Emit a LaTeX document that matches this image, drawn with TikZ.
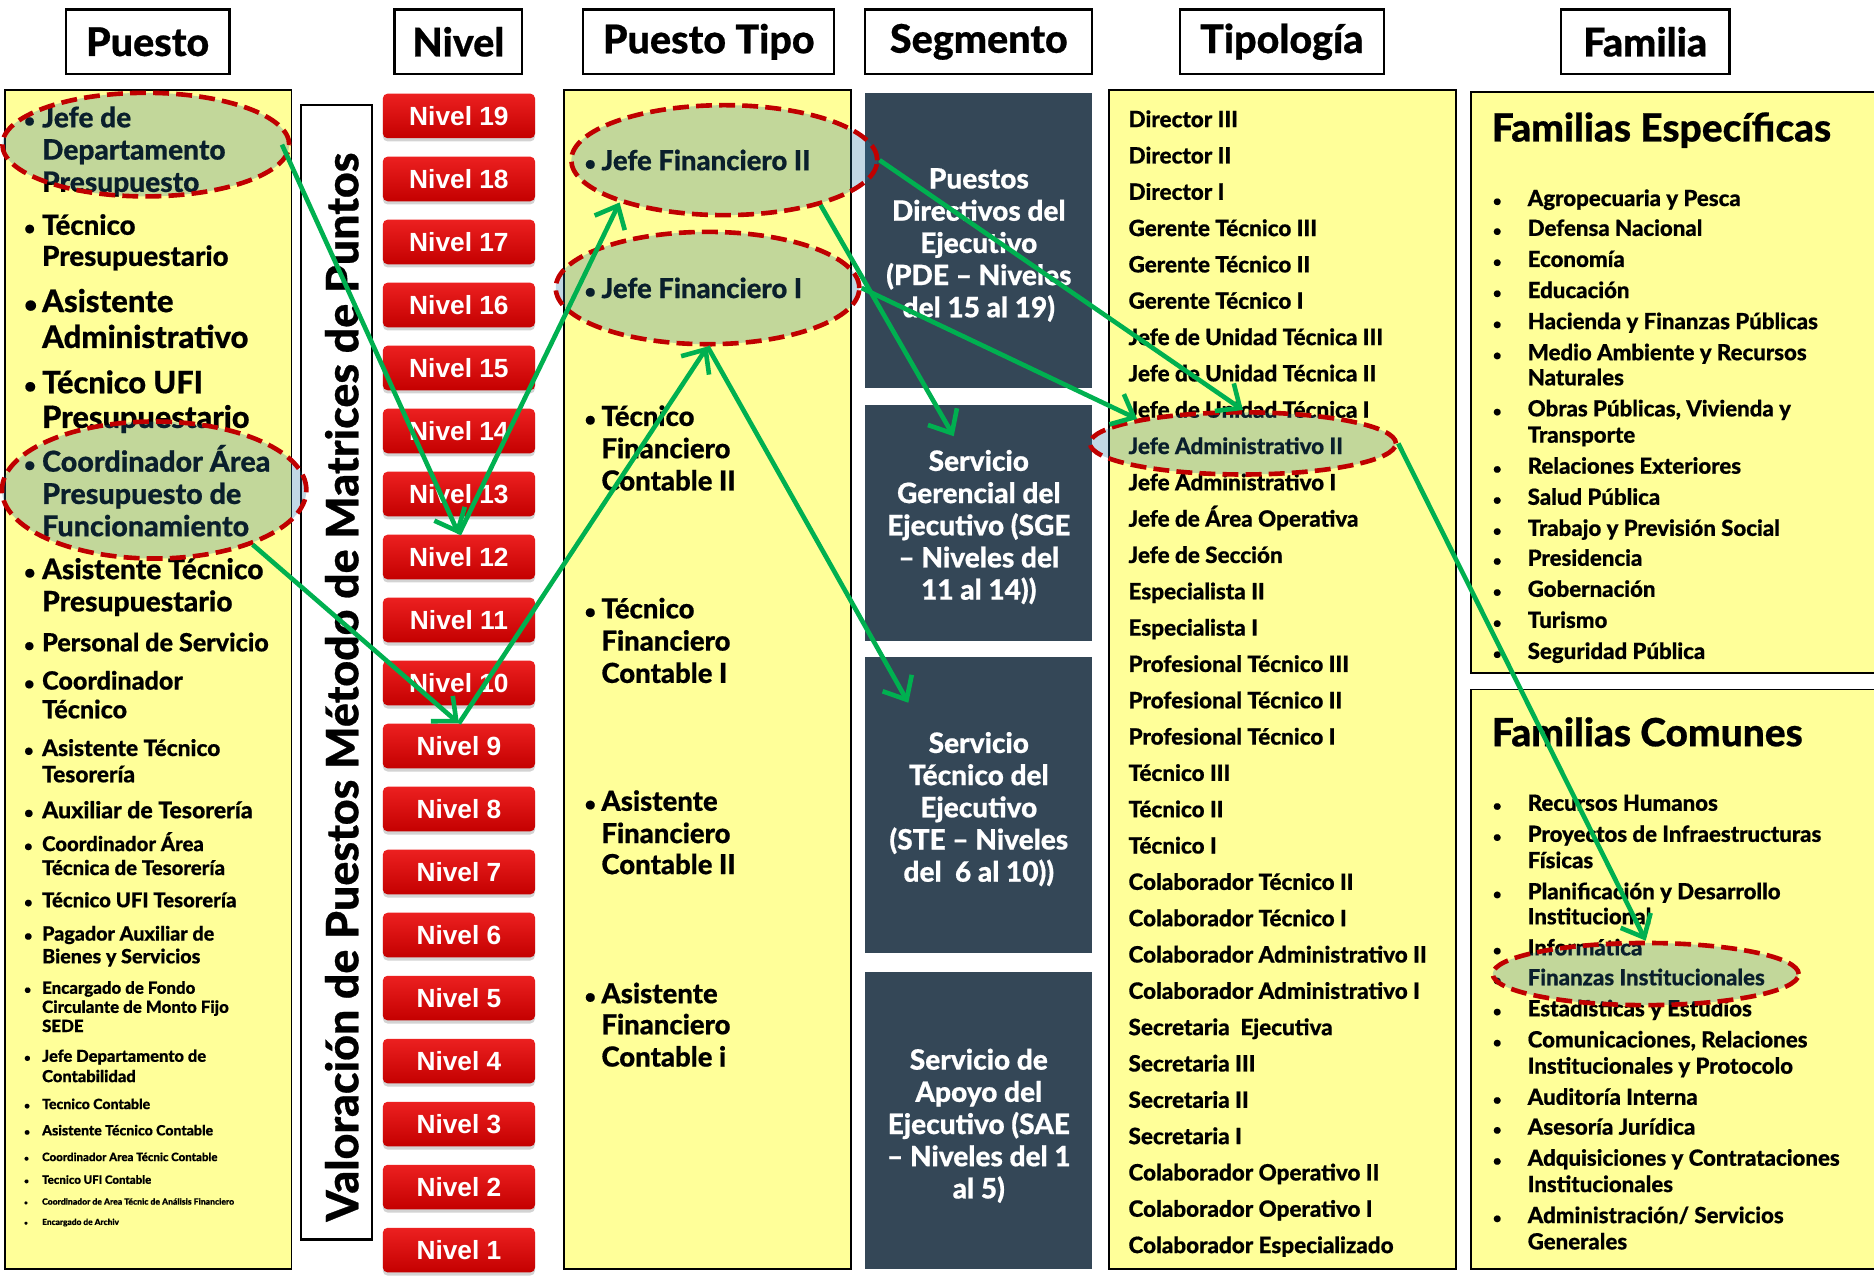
\documentclass[tikz,border=0pt]{standalone}
\usepackage{fontspec}
\setmainfont{Lato}[BoldFont={Lato Heavy}, BoldFeatures={FakeBold=0.6}]
\newfontfamily\btnfont{Liberation Sans}
\usetikzlibrary{arrows.meta}
\usetikzlibrary{shapes.geometric}
\usetikzlibrary{shadows}

\definecolor{panelyellow}{RGB}{255,255,153}
\definecolor{segblue}{RGB}{52,71,87}
\definecolor{arrowgreen}{RGB}{0,176,80}
\definecolor{dashred}{RGB}{192,0,0}
\definecolor{hlblue}{RGB}{37,114,160}
\definecolor{btntop}{RGB}{236,32,32}
\definecolor{btnbot}{RGB}{196,0,0}

% font size given in picture units (1 unit = 0.75pt)
\newcommand{\fs}[1]{\pgfmathsetmacro\fsa{#1*0.75}\pgfmathsetmacro\fsb{#1*0.92}\fontsize{\fsa}{\fsb}\selectfont}

\tikzset{
  panel/.style={draw=black, line width=1.1pt, fill=panelyellow},
  headbox/.style={draw=black, line width=1.4pt, fill=white, inner sep=0pt, minimum height=40.5pt, font=\bfseries\fs{33}},
  segbox/.style={fill=segblue},
  segtext/.style={text=white, align=center, inner sep=0pt, font=\bfseries\fontsize{17.6}{20.2}\selectfont},
  item/.style={anchor=mid west, inner sep=0pt},
  nivbtn/.style={rounded corners=3pt, top color=btntop, bottom color=btnbot,
    drop shadow={shadow xshift=0pt, shadow yshift=-2pt, opacity=0.35},
    minimum width=95.5pt, minimum height=28pt, inner sep=0pt, text=white,
    font=\btnfont\bfseries\fs{22}},
  hl/.style={ellipse, draw=dashred, line width=2.9pt, dash pattern=on 10pt off 4.5pt,
    fill=hlblue, fill opacity=0.28, draw opacity=1, inner sep=0pt},
  link/.style={draw=arrowgreen, line width=2.9pt, -{Straight Barb[length=12pt,width=21pt]}},
}

\begin{document}
\begin{tikzpicture}[x=0.75pt,y=0.75pt,yscale=-1,xscale=1]
\useasboundingbox (0,0) rectangle (1568,1068);
\clip (0,0) rectangle (1568,1068);

% Headers
\node[headbox, minimum width=102.75pt] (hpuesto) at (123.5,35) {Puesto};
\node[headbox, minimum width=80.25pt] (hnivel) at (383.5,35) {Nivel};
\node[headbox, minimum width=157.5pt] (htipo) at (593,35) {Puesto Tipo};
\node[headbox, minimum width=142.5pt] (hseg) at (819,35) {Segmento};
\node[headbox, minimum width=128.25pt] (htipol) at (1072.5,35) {Tipología};
\node[headbox, minimum width=105.75pt] (hfam) at (1376.5,35) {Familia};

% Panels
\draw[panel] (4,75) rectangle (244,1062);
\draw[panel] (472,75) rectangle (712,1062);
\draw[panel] (928,75) rectangle (1218,1062);
\draw[panel] (1231,77) rectangle (1590,563);
\draw[panel] (1231,577) rectangle (1590,1062);
\draw[line width=1.4pt, fill=white] (252,88) rectangle (311,1037);

% Segmento boxes
\fill[segbox] (724,78) rectangle (914,325);
\fill[segbox] (724,339) rectangle (914,536);
\fill[segbox] (724,550) rectangle (914,797);
\fill[segbox] (724,813) rectangle (914,1062);
\node[segtext] (seg1) at (819,205) {Puestos\\Directivos del\\Ejecutivo\\(PDE – Niveles\\del 15 al 19)};
\node[segtext] (seg2) at (819,441) {Servicio\\Gerencial del\\Ejecutivo (SGE\\– Niveles del\\11 al 14))};
\node[segtext] (seg3) at (819,677) {Servicio\\Técnico del\\Ejecutivo\\(STE – Niveles\\del\ \ 6 al 10))};
\node[segtext] (seg4) at (819,942) {Servicio de\\Apoyo del\\Ejecutivo (SAE\\– Niveles del 1\\al 5)};

% Vertical title
\node[rotate=90, inner sep=0pt, font=\bfseries\fs{37.4}] (valor) at (286,575) {Valoración de Puestos Método de Matrices de Puntos};

% Puesto list
\foreach \y/\s/\t [count=\i] in {98/23.5/{Jefe de}, 125/23.5/Departamento, 152/23.5/Presupuesto,
  188/23.1/Técnico, 214/23.1/Presupuestario, 252/26/Asistente, 282/26/Administrativo,
  320/25.7/{Técnico UFI}, 349/25.7/Presupuestario, 386/24/{Coordinador Área},
  413/24/{Presupuesto de}, 440/24/Funcionamiento, 476/23.6/{Asistente Técnico},
  503/23.6/Presupuestario, 537/21/{Personal de Servicio}, 569/21/Coordinador, 593/21/Técnico,
  625/19/{Asistente Técnico}, 647/19/Tesorería, 677/19.3/{Auxiliar de Tesorería},
  705/17/{Coordinador Área}, 725/17/{Técnica de Tesorería}, 752/17/{Técnico UFI Tesorería},
  780/16.5/{Pagador Auxiliar de}, 799/16.5/{Bienes y Servicios},
  825/14.1/{Encargado de Fondo}, 841/14.1/{Circulante de Monto Fijo}, 857/14.1/SEDE,
  882/13.8/{Jefe Departamento de}, 899/13.8/Contabilidad, 922/11.8/{Tecnico Contable},
  944/11.8/{Asistente Técnico Contable}, 966/9.6/{Coordinador Area Técnic Contable},
  985/9.6/{Tecnico UFI Contable}, 1003/7.2/{Coordinador de Area Técnic de Análisis Financiero},
  1020/7/{Encargado de Archiv}}
  \node[item, font=\bfseries\fs{\s}] (pu\i) at (35,{\y+0.22*\s}) {\t};
\foreach \y/\s [count=\i] in {98/22, 188/22.5, 252/27, 320/25, 386/23, 476/23, 537/21, 569/21,
  625/19, 677/19, 705/17, 752/17, 780/16.7, 825/14.2, 882/13.1, 922/11.8, 944/11.8,
  966/9.6, 985/9.6, 1003/7.2, 1020/7.2}
  \node[item, font=\bfseries\fs{0.7*\s}] (pub\i) at (20,{\y+0.22*\s}) {\textbullet};

% Nivel buttons
\foreach \k in {1,...,19}
  \node[nivbtn] (n\k) at (384,{97+(19-\k)*52.72}) {Nivel \k};

% Puesto Tipo list
\foreach \y/\t [count=\i] in {134/{Jefe Financiero II}, 241/{Jefe Financiero I},
  348/Técnico, 375/Financiero, 402/{Contable II}, 509/Técnico, 536/Financiero, 563/{Contable I},
  670/Asistente, 697/Financiero, 723/{Contable II}, 831/Asistente, 857/Financiero, 884/{Contable i}}
  \node[item, font=\bfseries\fs{23}] (pt\i) at (503,\y+5) {\t};
\foreach \y [count=\i] in {134, 241, 348, 509, 670, 831}
  \node[item, font=\bfseries\fs{16}] (ptb\i) at (489,\y+5) {\textbullet};

% Tipologia list
\foreach \t [count=\i] in {Director III, Director II, Director I, Gerente Técnico III,
  Gerente Técnico II, Gerente Técnico I, Jefe de Unidad Técnica III, Jefe de Unidad Técnica II,
  Jefe de Unidad Técnica I, Jefe Administrativo II, Jefe Administrativo I, Jefe de Área Operativa,
  Jefe de Sección, Especialista II, Especialista I, Profesional Técnico III, Profesional Técnico II,
  Profesional Técnico I, Técnico III, Técnico II, Técnico I, Colaborador Técnico II,
  Colaborador Técnico I, Colaborador Administrativo II, Colaborador Administrativo I,
  Secretaria\ \ Ejecutiva, Secretaria III, Secretaria II, Secretaria I, Colaborador Operativo II,
  Colaborador Operativo I, Colaborador Especializado}
  \node[item, font=\bfseries\fs{18.8}] (tp\i) at (944,{103+(\i-1)*30.39}) {\t};

% Familias
\node[item, font=\bfseries\fs{32.5}] (fesp) at (1248,115) {Familias Específicas};
\node[item, font=\bfseries\fs{32.5}] (fcom) at (1248,621) {Familias Comunes};
\foreach \y/\t [count=\i] in {165/{Agropecuaria y Pesca}, 190/{Defensa Nacional}, 216/Economía,
  242/Educación, 268/{Hacienda y Finanzas Públicas}, 294/{Medio Ambiente y Recursos},
  315/Naturales, 341/{Obras Públicas, Vivienda y}, 363/Transporte, 389/{Relaciones Exteriores},
  415/{Salud Pública}, 441/{Trabajo y Previsión Social}, 466/Presidencia, 492/Gobernación,
  518/Turismo, 544/{Seguridad Pública},
  671/{Recursos Humanos}, 697/{Proyectos de Infraestructuras}, 719/Físicas,
  745/{Planificación y Desarrollo}, 766/Institucional, 792/Informática,
  817/{Finanzas Institucionales}, 843/{Estadísticas y Estudios},
  869/{Comunicaciones, Relaciones}, 891/{Institucionales y Protocolo}, 917/{Auditoría Interna},
  942/{Asesoría Jurídica}, 968/{Adquisiciones y Contrataciones}, 990/Institucionales,
  1016/{Administración/ Servicios}, 1038/Generales}
  \node[item, font=\bfseries\fs{18.6}] (fa\i) at (1278,\y+4) {\t};
\foreach \y [count=\i] in {165, 190, 216, 242, 268, 294, 341, 389, 415, 441, 466, 492, 518, 544,
  671, 697, 745, 792, 817, 843, 869, 917, 942, 968, 1016}
  \node[item, font=\bfseries\fs{12}] (fab\i) at (1249,\y+4) {\textbullet};

% Highlight ellipses
\node[hl, minimum width=180pt, minimum height=65pt] (e1) at (122,121) {};
\node[hl, minimum width=191pt, minimum height=86pt] (e2) at (129,410) {};
\node[hl, minimum width=192pt, minimum height=69pt] (e3) at (606,134) {};
\node[hl, minimum width=190.5pt, minimum height=70.5pt] (e4) at (592,241) {};
\node[hl, minimum width=192pt, minimum height=39pt] (e5) at (1040,371) {};
\node[hl, minimum width=192pt, minimum height=39pt] (e6) at (1377,815) {};

% Connectors
\coordinate (t5) at (760,588);
\coordinate (t8) at (798,365);
\draw[link] ([xshift=-6pt]e1.east) -- (n12.north);
\draw[link] (n12.north) -- (e3.202);
\draw[link] (e2.-29) -- (n9.north);
\draw[link] (n9.north) -- (e4.south);
\draw[link] (e4.south) -- (t5);
\draw[link] (e3.east) -- (e5.north);
\draw[link] (e4.east) -- (e5.167);
\draw[link] (e3.-25) -- (t8);
\draw[link] (e5.east) -- (e6.north);

\end{tikzpicture}
\end{document}
